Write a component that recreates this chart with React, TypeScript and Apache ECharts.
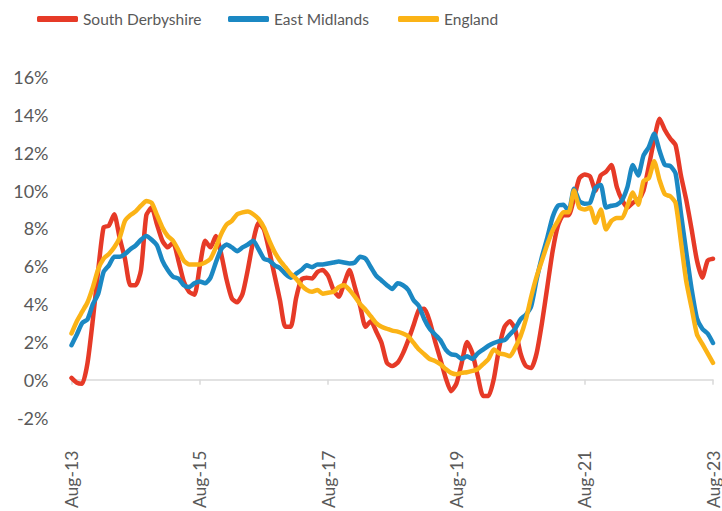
import React, { useEffect, useRef } from "react";
import * as echarts from "echarts";

const MONTHS = ["Jan", "Feb", "Mar", "Apr", "May", "Jun", "Jul", "Aug", "Sep", "Oct", "Nov", "Dec"];
// Monthly categories Aug-13 .. Aug-23
const categories: string[] = Array.from({ length: 121 }, (_, i) => {
  const m = (7 + i) % 12;
  const y = 13 + Math.floor((7 + i) / 12);
  return `${MONTHS[m]}-${y}`;
});

const yTicks = { min: -2, max: 16, step: 2 };

const southDerbyshire = [
  0.1, -0.15, -0.2, 0.9, 3.2, 5.8, 8.05, 8.15, 8.75, 7.5, 6.4, 5.0, 5.0, 5.8, 8.7, 9.1, 8.2, 7.35, 7.0, 7.25,
  6.3, 5.2, 4.65, 4.5, 6.0, 7.35, 7.0, 7.6, 6.65, 5.3, 4.3, 4.1, 4.55, 5.85, 7.35, 8.3, 7.95, 6.8, 5.5, 4.2,
  2.8, 2.8, 4.3, 5.3, 5.4, 5.35, 5.7, 5.8, 5.5, 4.75, 4.4, 5.1, 5.8, 4.9, 3.9, 2.8, 3.1, 2.55, 1.95, 0.9,
  0.73, 0.9, 1.4, 2.1, 2.9, 3.7, 3.75, 3.1, 2.05, 1.1, 0.1, -0.6, -0.2, 0.9, 2.0, 1.4, 0.2, -0.85, -0.85, 0.05,
  1.7, 2.8, 3.1, 2.65, 1.4, 0.73, 0.63, 1.4, 3.0, 4.9, 6.8, 8.15, 8.7, 8.7, 9.6, 10.65, 10.85, 10.75, 10.0, 10.8,
  11.0, 11.35, 10.2, 9.5, 9.1, 9.35, 9.5, 10.0, 11.3, 12.7, 13.8, 13.2, 12.75, 12.4, 10.8, 9.5, 7.95, 6.3, 5.4, 6.3,
  6.4,
];

const eastMidlands = [
  1.83, 2.4, 3.0, 3.2, 4.0, 4.55, 5.7, 6.05, 6.5, 6.5, 6.65, 6.9, 7.1, 7.4, 7.6, 7.4, 7.1, 6.3, 5.8, 5.45,
  5.35, 5.0, 4.9, 5.1, 5.2, 5.1, 5.4, 6.2, 6.9, 7.15, 7.0, 6.8, 7.0, 7.15, 7.35, 6.9, 6.4, 6.3, 6.05, 5.9,
  5.6, 5.4, 5.6, 5.8, 6.05, 5.95, 6.1, 6.1, 6.15, 6.2, 6.25, 6.2, 6.15, 6.2, 6.5, 6.4, 5.95, 5.5, 5.25, 5.0,
  4.8, 5.1, 5.0, 4.75, 4.2, 3.9, 3.2, 2.7, 2.4, 2.1, 1.6, 1.35, 1.3, 1.1, 1.25, 1.1, 1.4, 1.6, 1.8, 1.95,
  2.05, 2.1, 2.4, 2.7, 3.2, 3.45, 3.9, 5.3, 6.5, 7.5, 8.6, 9.2, 9.25, 8.9, 10.1, 9.45, 9.3, 9.35, 10.15, 10.3,
  9.1, 9.2, 9.25, 9.5, 10.2, 11.35, 10.8, 11.85, 12.3, 13.0, 12.1, 11.35, 11.3, 10.9, 8.8, 6.75, 4.8, 3.25, 2.7, 2.45,
  1.95,
];

const england = [
  2.45, 3.1, 3.6, 4.1, 4.9, 5.85, 6.4, 6.65, 7.0, 7.5, 8.4, 8.7, 8.9, 9.2, 9.45, 9.35, 8.7, 8.05, 7.6, 7.35,
  6.85, 6.3, 6.1, 6.1, 6.1, 6.2, 6.4, 7.0, 7.7, 8.2, 8.4, 8.75, 8.85, 8.9, 8.75, 8.5, 8.05, 7.35, 6.75, 6.3,
  5.95, 5.6, 5.35, 5.0, 4.75, 4.65, 4.75, 4.55, 4.6, 4.65, 4.9, 5.0, 4.75, 4.4, 4.0, 3.7, 3.35, 3.0, 2.8, 2.7,
  2.6, 2.55, 2.45, 2.3, 1.95, 1.6, 1.35, 1.1, 1.0, 0.83, 0.57, 0.37, 0.3, 0.37, 0.4, 0.47, 0.57, 0.83, 1.1, 1.6,
  1.4, 1.35, 1.25, 1.7, 2.3, 3.2, 4.4, 5.45, 6.3, 7.15, 7.9, 8.4, 8.85, 8.85, 10.0, 9.1, 9.0, 9.1, 8.3, 9.0,
  7.95, 8.4, 8.55, 8.55, 9.2, 9.9, 9.25, 10.5, 10.65, 11.55, 10.55, 9.8, 9.7, 9.35, 7.3, 5.2, 3.8, 2.4, 1.9, 1.4,
  0.9,
];

const seriesNames = ["South Derbyshire", "East Midlands", "England"];
const seriesColors = ["#E63A27", "#1B88C3", "#FBB316"];

const FONT = "Lato, 'Open Sans', sans-serif";
const TEXT = "#595959";

export default function App() {
  const ref = useRef<HTMLDivElement>(null);
  useEffect(() => {
    const chart = echarts.init(ref.current!, null, { renderer: "svg" });
    const dataSets = [southDerbyshire, eastMidlands, england];
    const legendLefts = [37, 228, 398];
    chart.setOption({
      animation: false,
      backgroundColor: "#ffffff",
      grid: { left: 71.5, right: 8, top: 77, bottom: 89, containLabel: false },
      legend: seriesNames.map((n, i) => ({
        data: [n],
        left: legendLefts[i],
        top: 11,
        padding: 0,
        icon: "roundRect",
        itemWidth: 41,
        itemHeight: 6,
        textStyle: { color: TEXT, fontSize: 15.5, fontFamily: FONT },
      })),
      xAxis: [
        {
          type: "category",
          data: categories,
          boundaryGap: false,
          position: "bottom",
          axisLine: { show: false, onZero: false },
          axisTick: { show: false },
          splitLine: { show: false },
          axisLabel: {
            interval: 23,
            rotate: 90,
            margin: 33,
            fontSize: 17.5,
            color: TEXT,
            fontFamily: FONT,
          },
        },
        {
          type: "category",
          data: categories,
          boundaryGap: false,
          position: "bottom",
          axisLine: { show: true, onZero: true, lineStyle: { color: "#D9D9D9", width: 1.5 } },
          axisTick: { show: true, interval: 23, length: 5, lineStyle: { color: "#D9D9D9", width: 1.5 } },
          axisLabel: { show: false },
          splitLine: { show: false },
        },
      ],
      yAxis: {
        type: "value",
        min: yTicks.min,
        max: yTicks.max,
        interval: yTicks.step,
        axisLine: { show: false },
        axisTick: { show: false },
        splitLine: { show: false },
        axisLabel: {
          formatter: "{value}%",
          fontSize: 18,
          color: TEXT,
          fontFamily: FONT,
          margin: 23,
        },
      },
      series: seriesNames.map((n, i) => ({
        name: n,
        type: "line",
        data: dataSets[i],
        xAxisIndex: 0,
        symbol: "none",
        smooth: 0.2,
        color: seriesColors[i],
        itemStyle: { color: seriesColors[i] },
        lineStyle: { color: seriesColors[i], width: 4.5, cap: "round", join: "round" },
        z: 2 + i,
      })),
    });
    return () => chart.dispose();
  }, []);
  return (
    <div
      ref={ref}
      style={{ position: "absolute", left: 0, top: 0, width: 722, height: 511 }}
    />
  );
}
